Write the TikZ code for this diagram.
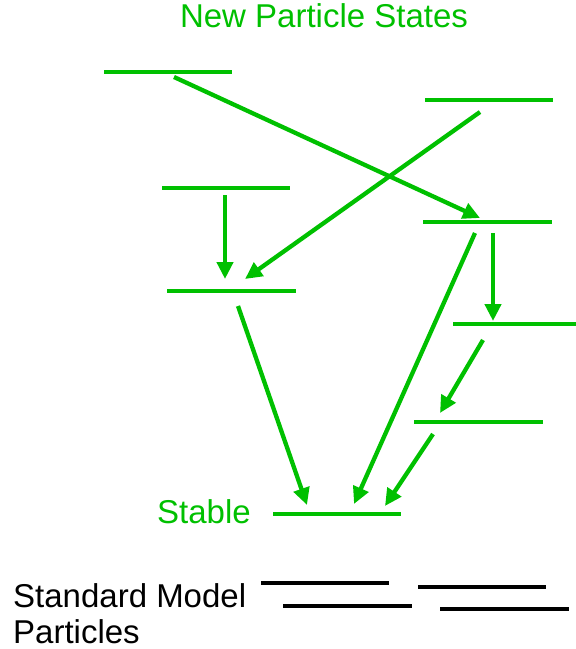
\documentclass[tikz,border=0pt]{standalone}
\usepackage{fontspec}
\setmainfont{Liberation Sans}
\usetikzlibrary{arrows.meta}
\definecolor{lvgreen}{RGB}{0,192,0}
\tikzset{
  level/.style={draw=lvgreen, line width=4.3pt},
  smlevel/.style={draw=black, line width=4.3pt},
  decay/.style={draw=lvgreen, line width=4.3pt, -{Triangle[length=17pt,width=16pt]}},
  lbl/.style={inner sep=0pt, font=\fontsize{33}{37}\selectfont},
}
\begin{document}
\begin{tikzpicture}[x=1pt,y=-1pt]
\useasboundingbox (0,0) rectangle (576,649);
% green levels
\draw[level] (104,72) -- (232,72);
\draw[level] (425,100) -- (553,100);
\draw[level] (162,188) -- (290,188);
\draw[level] (423,222) -- (552,222);
\draw[level] (167,291) -- (296,291);
\draw[level] (453,324) -- (576,324);
\draw[level] (414,422) -- (543,422);
\draw[level] (273,514) -- (401,514);
% black levels
\draw[smlevel] (261,583) -- (389,583);
\draw[smlevel] (283,606) -- (412,606);
\draw[smlevel] (418,587) -- (546,587);
\draw[smlevel] (440,609) -- (569,609);
% arrow end points
\coordinate (a1s) at (174,77);  \coordinate (a1e) at (480,218);
\coordinate (a2s) at (480,112); \coordinate (a2e) at (245,279);
\coordinate (a3s) at (225,195); \coordinate (a3e) at (225,279);
\coordinate (a4s) at (238,306); \coordinate (a4e) at (307,505);
\coordinate (a5s) at (475,233); \coordinate (a5e) at (354,504);
\coordinate (a6s) at (493,233); \coordinate (a6e) at (493,321);
\coordinate (a7s) at (483,340); \coordinate (a7e) at (440,413);
\coordinate (a8s) at (433,434); \coordinate (a8e) at (385,506);
\draw[decay] (a1s) -- (a1e);
\draw[decay] (a2s) -- (a2e);
\draw[decay] (a3s) -- (a3e);
\draw[decay] (a4s) -- (a4e);
\draw[decay] (a5s) -- (a5e);
\draw[decay] (a6s) -- (a6e);
\draw[decay] (a7s) -- (a7e);
\draw[decay] (a8s) -- (a8e);
% texts
\node[lbl, text=lvgreen, anchor=base] (title) at (324,27) {New Particle States};
\node[lbl, text=lvgreen, anchor=base west] (stable) at (157,523) {Stable};
\node[lbl, anchor=base west] (sm1) at (13,607) {Standard Model};
\node[lbl, anchor=base west] (sm2) at (13,643) {Particles};
\end{tikzpicture}
\end{document}
